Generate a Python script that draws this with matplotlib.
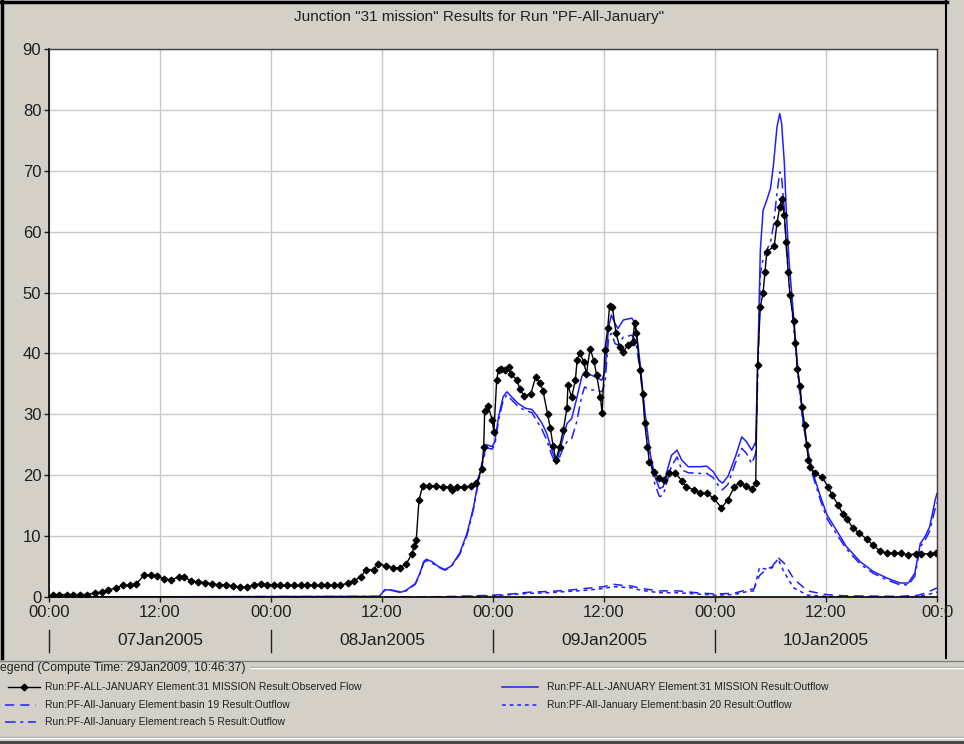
import matplotlib
matplotlib.use('Agg')
import matplotlib.pyplot as plt

plt.rcParams['font.family'] = ['Liberation Sans', 'DejaVu Sans']

# hours since 07Jan2005 00:00
obs_hours = [
    0.4, 1.1, 1.9, 2.6, 3.4, 4.1, 5.0, 5.7, 6.4, 7.2, 8.0, 8.8, 9.4, 10.3,
    11.0, 11.7, 12.4, 13.2, 14.0, 14.6, 15.4, 16.1, 16.9, 17.6, 18.4, 19.1,
    19.9, 20.6, 21.4, 22.2, 22.9, 23.6, 24.3,
    25.0, 25.7, 26.5, 27.2, 27.9, 28.6, 29.4, 30.1, 30.8, 31.5, 32.3, 33.0,
    33.7, 34.3, 35.1, 35.6, 36.4, 37.2, 37.9, 38.6, 39.2, 39.5, 39.7, 40.0,
    40.4, 41.1, 41.8, 42.6, 43.3, 43.6, 44.1, 44.9, 45.6, 46.2, 46.8, 47.0,
    47.1, 47.5, 47.9, 48.1, 48.4, 48.6, 48.9, 49.3, 49.7, 49.9, 50.6, 50.9,
    51.4, 52.1, 52.6, 53.1, 53.4, 53.9, 54.2, 54.5, 54.8, 55.2, 55.6, 56.0,
    56.1, 56.5, 56.9, 57.1, 57.4, 57.8, 58.1, 58.5, 58.9, 59.2, 59.6, 59.8,
    60.1, 60.4, 60.6, 60.9, 61.3, 61.7, 62.1, 62.6, 63.1, 63.3, 63.5, 63.9,
    64.2, 64.4, 64.7, 64.9, 65.4, 65.9, 66.5, 67.0, 67.7, 68.4, 68.9, 69.7,
    70.4, 71.1, 71.9, 72.7, 73.4, 74.1, 74.7, 75.4, 76.0, 76.4, 76.6, 76.9,
    77.2, 77.4, 77.6, 78.4, 78.7, 79.0, 79.2, 79.5, 79.7, 79.9, 80.1, 80.5,
    80.7, 80.9, 81.2, 81.4, 81.7, 81.9, 82.1, 82.3, 82.8, 83.6, 84.2, 84.7,
    85.3, 85.8, 86.3, 86.9, 87.6, 88.4, 89.1, 89.8, 90.6, 91.3, 92.1, 92.9,
    93.7, 94.3, 95.2, 95.9]
obs_flow = [
    0.4, 0.4, 0.4, 0.4, 0.4, 0.4, 0.7, 0.8, 1.1, 1.5, 1.9, 1.9, 2.1, 3.6,
    3.6, 3.4, 3.0, 2.8, 3.3, 3.3, 2.6, 2.5, 2.35, 2.2, 2.0, 2.0, 1.8, 1.6,
    1.6, 2.0, 2.2, 2.0, 2.0,
    1.9, 1.9, 1.9, 1.9, 1.9, 1.9, 1.9, 1.9, 1.9, 1.9, 2.3, 2.7,
    3.3, 4.5, 4.5, 5.5, 5.1, 4.8, 4.8, 5.4, 7.0, 8.4, 9.3, 16.0,
    18.2, 18.3, 18.2, 18.1, 18.1, 17.5, 18.1, 18.1, 18.2, 18.7, 21.1, 24.7,
    30.6, 31.3, 29.1, 27.1, 35.7, 37.3, 37.5, 37.3, 37.7, 36.6, 35.7, 34.1,
    33.0, 33.4, 36.1, 35.1, 33.9, 30.0, 27.7, 24.8, 22.5, 24.7, 27.4, 31.1,
    34.8, 32.8, 35.6, 39.0, 40.1, 38.6, 36.7, 40.8, 38.8, 36.5, 32.9, 30.2,
    40.6, 44.1, 47.8, 47.7, 43.3, 41.1, 40.3, 41.4, 41.9, 45.0, 43.3, 37.3,
    33.3, 28.5, 24.7, 22.2, 20.6, 19.5, 19.2, 20.4, 20.4, 19.1, 18.1, 17.6,
    17.1, 17.0, 16.2, 14.6, 16.0, 18.1, 18.8, 18.2, 17.7, 18.7, 38.1, 47.7,
    50.0, 53.4, 56.7, 57.6, 61.4, 64.0, 65.3, 62.7, 58.3, 53.4, 49.6, 45.3,
    41.7, 37.5, 34.6, 31.2, 28.2, 25.0, 22.5, 21.4, 20.3, 19.7, 18.1, 16.7,
    15.1, 13.7, 12.8, 11.3, 10.5, 9.5, 8.5, 7.6, 7.2, 7.2, 7.2, 6.9,
    7.1, 7.1, 7.1, 7.2]

sim_hours = [
    0, 35.7, 36.3, 37.0, 38.1, 38.6, 39.6, 40.1, 40.5, 40.8, 41.4, 42.1,
    42.8, 43.5, 44.4, 45.2, 45.9, 46.4, 46.8, 47.3, 47.9, 48.2, 48.6, 49.1,
    49.5, 50.0, 50.7, 51.5, 52.2, 52.7, 53.3, 53.8, 54.3, 54.8, 55.0, 55.6,
    56.0, 56.5, 57.0, 57.6, 57.9, 58.5, 59.0, 59.75, 60.1, 60.5, 60.8, 61.2,
    61.5, 62.1, 63.0, 63.4, 63.9, 64.4, 65.0, 65.5, 66.0, 66.4, 66.8, 67.3,
    67.9, 68.4, 69.1, 70.4, 71.1, 71.8, 72.4, 72.8, 73.4, 74.2, 74.9, 75.4,
    75.97, 76.4, 76.7, 76.9, 77.2, 77.6, 78.0, 78.3, 78.7, 79.0, 79.2, 79.5,
    79.7, 80.0, 80.5, 81.0, 81.5, 82.1, 82.6, 83.4, 84.1, 85.2, 86.2, 87.7,
    89.1, 90.6, 92.0, 92.9, 93.6, 94.2, 94.7, 95.2, 95.8, 96.0]
outflow_31 = [
    0, 0.1, 1.2, 1.15, 0.8, 1.1, 2.2, 3.9, 5.8, 6.2, 5.8, 5.0,
    4.5, 5.1, 7.2, 10.5, 14.8, 19.0, 22.0, 25.0, 24.7, 25.5, 29.6, 32.9,
    33.7, 32.9, 31.8, 31.0, 30.8, 29.9, 28.5, 26.9, 24.4, 22.3, 22.8, 26.3,
    28.5, 29.3, 32.3, 36.2, 37.0, 36.5, 36.2, 35.6, 37.0, 44.4, 46.3, 44.9,
    44.1, 45.5, 45.8, 44.9, 38.4, 30.7, 23.5, 19.8, 17.8, 18.1, 20.6, 23.3,
    24.1, 22.5, 21.4, 21.4, 21.5, 20.6, 19.2, 18.7, 19.8, 23.0, 26.3, 25.5,
    24.1, 25.5, 43.3, 57.0, 63.5, 65.2, 67.1, 70.7, 77.2, 79.4, 77.8, 71.2,
    63.5, 55.3, 46.0, 36.7, 29.1, 23.6, 20.3, 16.5, 13.5, 10.8, 8.3, 5.8,
    4.2, 3.1, 2.3, 2.3, 3.9, 8.8, 9.9, 11.5, 15.9, 17.0]
reach5 = [
    0, 0.1, 1.1, 1.1, 0.7, 1.0, 2.1, 3.8, 5.6, 6.0, 5.6, 4.9,
    4.4, 5.0, 7.0, 10.2, 14.5, 18.7, 21.6, 24.5, 24.3, 25.0, 29.0, 32.3,
    33.2, 32.4, 31.3, 30.6, 30.3, 29.0, 27.5, 25.8, 23.5, 21.8, 22.2, 24.5,
    25.5, 26.0, 28.5, 33.0, 34.5, 34.0, 34.0, 33.7, 35.0, 42.7, 43.3, 41.6,
    41.4, 42.7, 43.0, 42.2, 37.3, 30.0, 22.5, 18.5, 16.5, 16.7, 18.9, 21.5,
    23.0, 20.9, 20.4, 20.3, 20.3, 19.6, 18.2, 17.6, 18.5, 22.0, 24.4, 23.6,
    21.9, 23.6, 40.6, 53.1, 55.5, 57.0, 58.3, 60.8, 66.3, 69.8, 69.0, 63.5,
    57.5, 52.1, 44.4, 35.9, 28.8, 23.3, 19.8, 15.9, 12.9, 10.2, 7.9, 5.4,
    3.9, 2.8, 2.0, 2.0, 3.4, 8.3, 9.3, 10.8, 14.5, 15.5]

basin_hours = [0, 40, 44, 48, 50, 52, 54, 56, 58, 60, 61, 62, 63, 64, 66,
               68, 70, 72, 74, 75.5, 76.2, 76.8, 77.5, 78.2, 78.8, 79.5,
               80.5, 82, 84, 86, 92, 94, 95, 96]
basin19 = [0, 0, 0.1, 0.3, 0.5, 0.8, 0.9, 1.1, 1.4, 1.7, 2.1, 1.9, 1.8,
           1.4, 1.0, 1.0, 0.7, 0.5, 0.6, 1.2, 1.3, 3.5, 4.5, 5.0, 6.5, 5.5,
           3.0, 1.0, 0.4, 0.2, 0.1, 0.3, 0.8, 1.5]
basin20 = [0, 0, 0.05, 0.2, 0.4, 0.6, 0.7, 0.9, 1.1, 1.4, 1.7, 1.6, 1.5,
           1.1, 0.7, 0.7, 0.5, 0.3, 0.4, 0.9, 1.0, 4.8, 4.6, 4.8, 6.3, 4.0,
           1.5, 0.3, 0.1, 0.05, 0.0, 0.1, 0.4, 0.8]

tick_hours = [0, 12, 24, 36, 48, 60, 72, 84, 96]
tick_labels = ['00:00', '12:00', '00:00', '12:00', '00:00', '12:00',
               '00:00', '12:00', '00:0']
day_starts = [0, 24, 48, 72]
day_labels = ['07Jan2005', '08Jan2005', '09Jan2005', '10Jan2005']

BLUE = '#1f1fff'
GRAY = '#d4d0c8'
styles = {
    'obs': dict(color='black', lw=1.0, marker='D', ms=3.4, mfc='black',
                mec='black'),
    'out': dict(color=BLUE, lw=1.1, ls='-'),
    'b19': dict(color=BLUE, lw=1.1, ls=(0, (6, 4))),
    'b20': dict(color=BLUE, lw=1.1, ls=(0, (2.5, 2.5))),
    'r5': dict(color=BLUE, lw=1.1, ls=(0, (7, 3, 2, 3))),
}
labels = {
    'obs': 'Run:PF-ALL-JANUARY Element:31 MISSION Result:Observed Flow',
    'out': 'Run:PF-ALL-JANUARY Element:31 MISSION Result:Outflow',
    'b19': 'Run:PF-All-January Element:basin 19 Result:Outflow',
    'b20': 'Run:PF-All-January Element:basin 20 Result:Outflow',
    'r5': 'Run:PF-All-January Element:reach 5 Result:Outflow',
}

W, H = 964, 744
fig = plt.figure(figsize=(W / 100, H / 100), dpi=100, facecolor=GRAY)

# pixel-coordinate overlay for frame and legend
lax = fig.add_axes([0, 0, 1, 1], zorder=0)
lax.set_xlim(0, W)
lax.set_ylim(H, 0)
lax.axis('off')

ax = fig.add_axes([49 / W, 1 - 597 / H, (937 - 49) / W, (597 - 49) / H],
                  zorder=1)
ax.set_facecolor('white')
ax.plot(basin_hours, basin20, **styles['b20'])
ax.plot(basin_hours, basin19, **styles['b19'])
ax.plot(sim_hours, reach5, **styles['r5'])
ax.plot(sim_hours, outflow_31, **styles['out'])
ax.plot(obs_hours, obs_flow, **styles['obs'])

ax.set_xlim(0, 96)
ax.set_ylim(0, 90)
ax.set_yticks(range(0, 91, 10))
ax.set_xticks(tick_hours)
ax.set_xticklabels(tick_labels)
ax.grid(True, color='#c8c8c8', lw=1)
ax.set_axisbelow(True)
ax.tick_params(labelsize=12, length=3.5, width=1, pad=2, colors='#202020')
for side in ['left', 'bottom']:
    ax.spines[side].set_color('black')
    ax.spines[side].set_linewidth(1.2)
for side in ['top', 'right']:
    ax.spines[side].set_color('#404040')
    ax.spines[side].set_linewidth(1.0)

xt = ax.get_xaxis_transform()
for d0, lab in zip(day_starts, day_labels):
    ax.plot([d0, d0], [-0.06, -0.10], color='#202020', lw=1,
            transform=xt, clip_on=False)
    ax.text(d0 + 12, -0.08, lab, transform=xt, ha='center', va='center',
            fontsize=12.5, color='#202020')

fig.text(479 / W, 1 - 17 / H,
         'Junction "31 mission" Results for Run "PF-All-January"',
         ha='center', va='center', fontsize=11, color='#202020')

# window frame
lax.plot([1.5, 1.5], [0, 658], color='black', lw=2.5)
lax.plot([0, 947], [1.5, 1.5], color='black', lw=2.5)
lax.plot([946, 946], [0, 658], color='black', lw=1.5)

# legend group box
lax.plot([0, W], [661, 661], color='#808080', lw=1)
lax.plot([250, W], [667, 667], color='#a0a0a0', lw=1)
lax.plot([250, W], [668, 668], color='white', lw=1)
lax.plot([0, W], [737, 737], color='#a0a0a0', lw=1)
lax.plot([0, W], [738, 738], color='white', lw=1)
lax.plot([0, W], [742, 742], color='#404040', lw=2)
lax.text(0, 668, 'egend (Compute Time: 29Jan2009, 10:46:37)',
         ha='left', va='center', fontsize=8.7, color='#202020')

entries = [('obs', 8, 40, 45, 687), ('b19', 5, 36, 45, 705),
           ('r5', 5, 36, 45, 722), ('out', 502, 538, 547, 687),
           ('b20', 502, 538, 547, 705)]
for key, xa, xb, xtxt, yy in entries:
    st = dict(styles[key])
    if key == 'obs':
        st['markevery'] = [1]
        lax.plot([xa, (xa + xb) / 2, xb], [yy, yy, yy], **st)
    else:
        lax.plot([xa, xb], [yy, yy], **st)
    lax.text(xtxt, yy, labels[key], ha='left', va='center', fontsize=7.5,
             color='#202020')

fig.savefig('out.png', dpi=100, facecolor=GRAY)
